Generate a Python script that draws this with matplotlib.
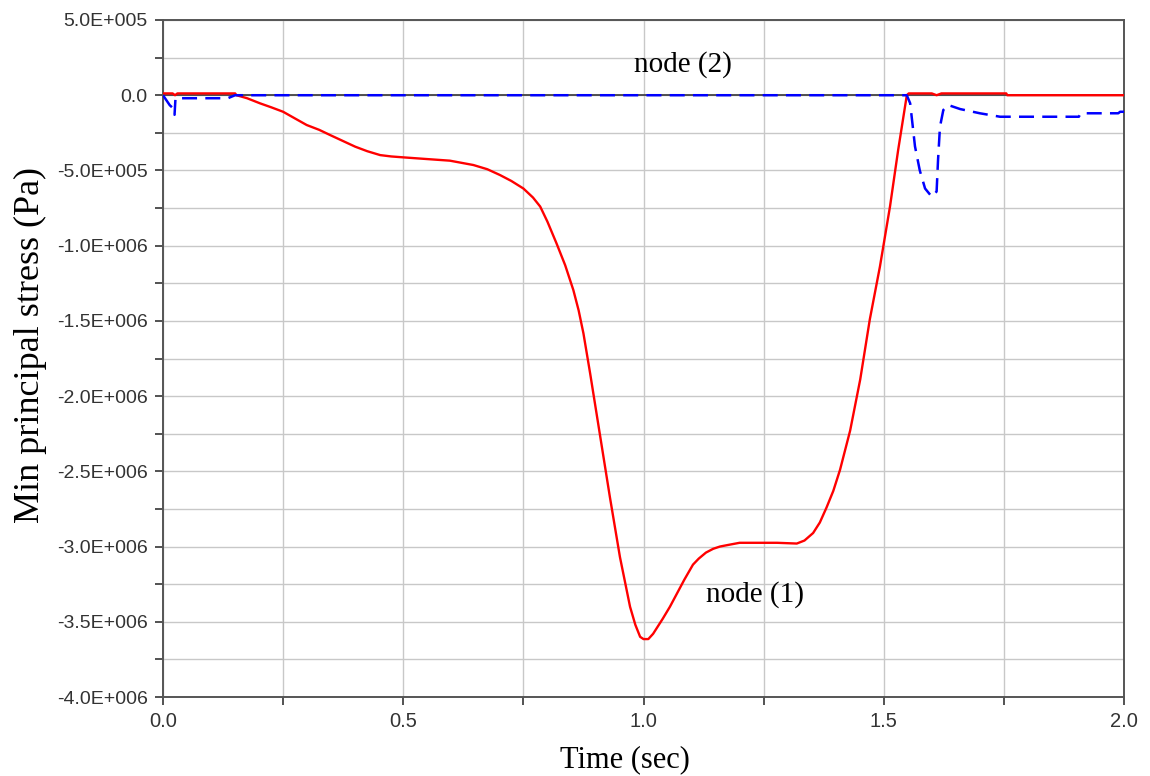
import matplotlib
matplotlib.use("Agg")
import matplotlib.pyplot as plt
from matplotlib.ticker import FixedLocator

# ---- data ----
t_node1 = [0.0, 0.02, 0.025, 0.03, 0.15, 0.153, 0.175, 0.202, 0.225, 0.25, 0.275, 0.299, 0.325,
           0.348, 0.375, 0.40, 0.425, 0.452, 0.475, 0.5, 0.548, 0.597, 0.646, 0.675, 0.701, 0.725,
           0.75, 0.77, 0.785, 0.80, 0.819, 0.837, 0.854, 0.865, 0.875, 0.889, 0.909, 0.930, 0.951, 0.972,
           0.983, 0.993, 1.0, 1.01, 1.02, 1.04, 1.055, 1.07, 1.085, 1.103, 1.115, 1.13, 1.145,
           1.159, 1.175, 1.2, 1.278, 1.319, 1.335, 1.353, 1.367, 1.381, 1.395, 1.409, 1.430, 1.451,
           1.471, 1.492, 1.513, 1.530, 1.548, 1.552, 1.60, 1.61, 1.62, 1.755, 1.757, 2.0]
s_node1 = [1.2e4, 1.2e4, 0, 1.2e4, 1.2e4, 0, -2.0e4, -5.4e4, -8.0e4, -1.1e5, -1.55e5, -1.98e5, -2.3e5,
           -2.65e5, -3.05e5, -3.42e5, -3.72e5, -3.98e5, -4.07e5, -4.13e5, -4.24e5, -4.35e5, -4.64e5, -4.92e5, -5.3e5, -5.7e5,
           -6.2e5, -6.8e5, -7.4e5, -8.4e5, -9.85e5, -1.13e6, -1.295e6, -1.43e6, -1.583e6, -1.85e6, -2.25e6, -2.67e6, -3.07e6, -3.40e6,
           -3.52e6, -3.60e6, -3.615e6, -3.615e6, -3.58e6, -3.48e6, -3.40e6, -3.31e6, -3.22e6, -3.12e6, -3.08e6, -3.04e6, -3.015e6,
           -3.0e6, -2.99e6, -2.975e6, -2.975e6, -2.98e6, -2.96e6, -2.91e6, -2.84e6, -2.74e6, -2.63e6, -2.49e6, -2.23e6, -1.89e6,
           -1.49e6, -1.14e6, -7.4e5, -3.64e5, 0, 1.2e4, 1.2e4, 0, 1.2e4, 1.2e4, 0, 0]

t_node2 = [0.0, 0.014, 0.022, 0.024, 0.026, 0.135, 0.15, 1.548, 1.555, 1.565, 1.575, 1.586,
           1.6, 1.61, 1.613, 1.617, 1.624, 1.634, 1.659, 1.7, 1.742, 1.906, 1.91, 1.988, 1.992, 2.0]
s_node2 = [0, -6.6e4, -9e4, -1.3e5, -2e4, -2e4, 0, 0, -5.4e4, -3.4e5, -5e5, -6.2e5,
           -6.75e5, -6.4e5, -4.3e5, -2.1e5, -9.8e4, -6.5e4, -9.2e4, -1.2e5, -1.43e5, -1.43e5, -1.2e5, -1.2e5, -1.1e5, -1.1e5]

x_ticks = [0.0, 0.5, 1.0, 1.5, 2.0]
x_tick_labels = ["0.0", "0.5", "1.0", "1.5", "2.0"]
x_minor = [0.25, 0.75, 1.25, 1.75]
y_ticks = [5e5, 0, -5e5, -1e6, -1.5e6, -2e6, -2.5e6, -3e6, -3.5e6, -4e6]
y_tick_labels = ["5.0E+005", "0.0", "-5.0E+005", "-1.0E+006", "-1.5E+006", "-2.0E+006",
                 "-2.5E+006", "-3.0E+006", "-3.5E+006", "-4.0E+006"]
y_minor = [2.5e5, -2.5e5, -7.5e5, -1.25e6, -1.75e6, -2.25e6, -2.75e6, -3.25e6, -3.75e6]

# ---- figure ----
serif = ["Liberation Serif", "DejaVu Serif"]
tickfont = ["Liberation Sans", "DejaVu Sans"]

fig = plt.figure(figsize=(11.5, 7.76), dpi=100)
ax = fig.add_axes([163/1150, 1-697/776, (1124-163)/1150, (697-20)/776])

ax.set_xlim(0, 2.0)
ax.set_ylim(-4e6, 5e5)

ax.xaxis.set_major_locator(FixedLocator(x_ticks))
ax.xaxis.set_minor_locator(FixedLocator(x_minor))
ax.yaxis.set_major_locator(FixedLocator(y_ticks))
ax.yaxis.set_minor_locator(FixedLocator(y_minor))
ax.set_xticklabels(x_tick_labels, family=tickfont, fontsize=14.5, color="#333333")
ax.set_yticklabels(y_tick_labels, family=tickfont, fontsize=14, color="#333333")

ax.grid(True, which="both", color="#c8c8c8", lw=1.0, zorder=0)
ax.set_axisbelow(True)
ax.tick_params(which="both", direction="out", length=6, width=1.3, color="#444444", pad=5)

for sp in ax.spines.values():
    sp.set_color("#555555")
    sp.set_linewidth(1.4)

ax.axhline(0, color="#444444", lw=1.3, zorder=1)

ax.plot(t_node1, s_node1, color="#ff0000", lw=1.7, zorder=3)
ax.plot(t_node2, s_node2, color="#0000ff", lw=1.8, dashes=(6, 3.3), zorder=4)

ax.text(1.082, 2.07e5, "node (2)", family=serif, fontsize=21, ha="center", va="center")
ax.text(1.232, -3.317e6, "node (1)", family=serif, fontsize=21, ha="center", va="center")

ax.set_xlabel("Time (sec)", family=serif, fontsize=22, va="center")
ax.set_ylabel("Min principal stress (Pa)", family=serif, fontsize=26, va="center")
ax.xaxis.set_label_coords((625-163)/961, (697-760)/677)
ax.yaxis.set_label_coords((30-163)/961, (697-345)/677)

fig.savefig("out.png", dpi=100)
